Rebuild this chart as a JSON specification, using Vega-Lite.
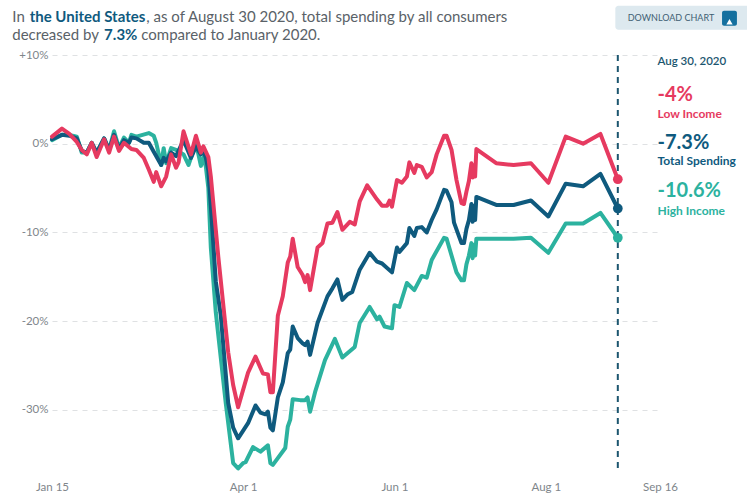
{"$schema":"https://vega.github.io/schema/vega-lite/v6.json","width":608,"height":417,"autosize":"none","padding":{"left":52,"top":55,"right":87,"bottom":25},"background":"white","config":{"view":{"stroke":null},"text":{"font":"Lato"}},
"data":{"values":[{}]},
"datasets":{"spend":[
{"date":"2020-01-15","series":"High","value":0.4},{"date":"2020-01-19","series":"High","value":1.0},{"date":"2020-01-22","series":"High","value":1.0},{"date":"2020-01-25","series":"High","value":0.8},{"date":"2020-01-27","series":"High","value":-1.0},{"date":"2020-01-29","series":"High","value":-1.0},{"date":"2020-01-31","series":"High","value":0.1},{"date":"2020-02-02","series":"High","value":-1.0},{"date":"2020-02-05","series":"High","value":0.6},{"date":"2020-02-07","series":"High","value":-0.7},{"date":"2020-02-09","series":"High","value":1.4},{"date":"2020-02-11","series":"High","value":-0.5},{"date":"2020-02-13","series":"High","value":0.7},{"date":"2020-02-15","series":"High","value":0.1},{"date":"2020-02-16","series":"High","value":1.0},{"date":"2020-02-18","series":"High","value":0.8},{"date":"2020-02-23","series":"High","value":1.2},{"date":"2020-02-25","series":"High","value":0.9},{"date":"2020-02-26","series":"High","value":0.1},{"date":"2020-02-28","series":"High","value":-2.4},{"date":"2020-02-29","series":"High","value":-0.5},{"date":"2020-03-01","series":"High","value":-2.2},{"date":"2020-03-03","series":"High","value":-0.5},{"date":"2020-03-05","series":"High","value":-0.7},{"date":"2020-03-08","series":"High","value":-1.2},{"date":"2020-03-10","series":"High","value":-2.4},{"date":"2020-03-13","series":"High","value":0.1},{"date":"2020-03-15","series":"High","value":-2.5},{"date":"2020-03-16","series":"High","value":-1.5},{"date":"2020-03-17","series":"High","value":-2.6},{"date":"2020-03-18","series":"High","value":-5.0},{"date":"2020-03-19","series":"High","value":-11.7},{"date":"2020-03-21","series":"High","value":-19.0},{"date":"2020-03-25","series":"High","value":-29.2},{"date":"2020-03-28","series":"High","value":-36.0},{"date":"2020-03-30","series":"High","value":-36.6},{"date":"2020-04-01","series":"High","value":-36.0},{"date":"2020-04-02","series":"High","value":-35.9},{"date":"2020-04-05","series":"High","value":-34.2},{"date":"2020-04-08","series":"High","value":-34.7},{"date":"2020-04-11","series":"High","value":-34.0},{"date":"2020-04-12","series":"High","value":-36.0},{"date":"2020-04-13","series":"High","value":-36.2},{"date":"2020-04-18","series":"High","value":-34.3},{"date":"2020-04-19","series":"High","value":-31.9},{"date":"2020-04-20","series":"High","value":-31.1},{"date":"2020-04-21","series":"High","value":-28.8},{"date":"2020-04-24","series":"High","value":-28.9},{"date":"2020-04-26","series":"High","value":-28.9},{"date":"2020-04-27","series":"High","value":-28.6},{"date":"2020-04-28","series":"High","value":-30.2},{"date":"2020-04-30","series":"High","value":-28.0},{"date":"2020-05-04","series":"High","value":-24.4},{"date":"2020-05-08","series":"High","value":-22.0},{"date":"2020-05-11","series":"High","value":-24.1},{"date":"2020-05-16","series":"High","value":-22.9},{"date":"2020-05-18","series":"High","value":-20.2},{"date":"2020-05-22","series":"High","value":-18.4},{"date":"2020-05-25","series":"High","value":-19.8},{"date":"2020-05-26","series":"High","value":-19.5},{"date":"2020-05-28","series":"High","value":-20.6},{"date":"2020-05-31","series":"High","value":-20.8},{"date":"2020-06-01","series":"High","value":-18.2},{"date":"2020-06-03","series":"High","value":-18.4},{"date":"2020-06-06","series":"High","value":-15.7},{"date":"2020-06-09","series":"High","value":-16.5},{"date":"2020-06-12","series":"High","value":-14.9},{"date":"2020-06-14","series":"High","value":-15.1},{"date":"2020-06-16","series":"High","value":-13.1},{"date":"2020-06-21","series":"High","value":-10.6},{"date":"2020-06-22","series":"High","value":-10.7},{"date":"2020-06-26","series":"High","value":-14.5},{"date":"2020-06-28","series":"High","value":-15.4},{"date":"2020-06-29","series":"High","value":-15.4},{"date":"2020-06-30","series":"High","value":-13.6},{"date":"2020-07-01","series":"High","value":-12.6},{"date":"2020-07-02","series":"High","value":-11.2},{"date":"2020-07-02T12:00:00Z","series":"High","value":-12.9},{"date":"2020-07-03","series":"High","value":-11.4},{"date":"2020-07-03T12:00:00Z","series":"High","value":-12.6},{"date":"2020-07-04","series":"High","value":-10.7},{"date":"2020-07-12","series":"High","value":-10.7},{"date":"2020-07-19","series":"High","value":-10.7},{"date":"2020-07-26","series":"High","value":-10.6},{"date":"2020-08-02","series":"High","value":-12.3},{"date":"2020-08-09","series":"High","value":-9.0},{"date":"2020-08-16","series":"High","value":-9.0},{"date":"2020-08-23","series":"High","value":-7.8},{"date":"2020-08-30","series":"High","value":-10.6},
{"date":"2020-01-15","series":"Total","value":0.5},{"date":"2020-01-19","series":"Total","value":1.0},{"date":"2020-01-22","series":"Total","value":0.9},{"date":"2020-01-25","series":"Total","value":0.6},{"date":"2020-01-27","series":"Total","value":-0.8},{"date":"2020-01-29","series":"Total","value":-1.0},{"date":"2020-01-31","series":"Total","value":0.1},{"date":"2020-02-02","series":"Total","value":-1.0},{"date":"2020-02-05","series":"Total","value":0.6},{"date":"2020-02-07","series":"Total","value":-0.7},{"date":"2020-02-09","series":"Total","value":1.0},{"date":"2020-02-11","series":"Total","value":-0.6},{"date":"2020-02-13","series":"Total","value":0.4},{"date":"2020-02-15","series":"Total","value":0.1},{"date":"2020-02-16","series":"Total","value":0.7},{"date":"2020-02-18","series":"Total","value":0.6},{"date":"2020-02-21","series":"Total","value":0.1},{"date":"2020-02-23","series":"Total","value":0.1},{"date":"2020-02-25","series":"Total","value":-0.9},{"date":"2020-02-28","series":"Total","value":-2.4},{"date":"2020-02-29","series":"Total","value":-1.6},{"date":"2020-03-01","series":"Total","value":-2.0},{"date":"2020-03-03","series":"Total","value":-1.0},{"date":"2020-03-05","series":"Total","value":-1.4},{"date":"2020-03-08","series":"Total","value":0.4},{"date":"2020-03-11","series":"Total","value":-1.6},{"date":"2020-03-13","series":"Total","value":-0.3},{"date":"2020-03-15","series":"Total","value":-1.2},{"date":"2020-03-16","series":"Total","value":-0.8},{"date":"2020-03-17","series":"Total","value":-1.6},{"date":"2020-03-18","series":"Total","value":-3.0},{"date":"2020-03-19","series":"Total","value":-7.0},{"date":"2020-03-21","series":"Total","value":-15.5},{"date":"2020-03-23","series":"Total","value":-19.3},{"date":"2020-03-26","series":"Total","value":-29.2},{"date":"2020-03-28","series":"Total","value":-32.0},{"date":"2020-03-30","series":"Total","value":-33.2},{"date":"2020-04-03","series":"Total","value":-31.5},{"date":"2020-04-06","series":"Total","value":-29.5},{"date":"2020-04-08","series":"Total","value":-30.3},{"date":"2020-04-10","series":"Total","value":-30.5},{"date":"2020-04-11","series":"Total","value":-30.2},{"date":"2020-04-12","series":"Total","value":-32.0},{"date":"2020-04-13","series":"Total","value":-32.3},{"date":"2020-04-15","series":"Total","value":-28.6},{"date":"2020-04-17","series":"Total","value":-26.9},{"date":"2020-04-19","series":"Total","value":-23.6},{"date":"2020-04-20","series":"Total","value":-23.2},{"date":"2020-04-21","series":"Total","value":-20.6},{"date":"2020-04-23","series":"Total","value":-21.9},{"date":"2020-04-25","series":"Total","value":-22.5},{"date":"2020-04-26","series":"Total","value":-22.7},{"date":"2020-04-27","series":"Total","value":-22.3},{"date":"2020-04-28","series":"Total","value":-23.8},{"date":"2020-05-01","series":"Total","value":-20.2},{"date":"2020-05-05","series":"Total","value":-17.2},{"date":"2020-05-07","series":"Total","value":-16.3},{"date":"2020-05-09","series":"Total","value":-15.3},{"date":"2020-05-11","series":"Total","value":-17.6},{"date":"2020-05-13","series":"Total","value":-17.0},{"date":"2020-05-15","series":"Total","value":-16.7},{"date":"2020-05-18","series":"Total","value":-14.2},{"date":"2020-05-22","series":"Total","value":-12.3},{"date":"2020-05-25","series":"Total","value":-13.3},{"date":"2020-05-27","series":"Total","value":-13.5},{"date":"2020-05-31","series":"Total","value":-14.5},{"date":"2020-06-02","series":"Total","value":-11.7},{"date":"2020-06-03","series":"Total","value":-12.2},{"date":"2020-06-06","series":"Total","value":-11.2},{"date":"2020-06-07","series":"Total","value":-9.5},{"date":"2020-06-09","series":"Total","value":-10.4},{"date":"2020-06-10","series":"Total","value":-9.5},{"date":"2020-06-12","series":"Total","value":-9.4},{"date":"2020-06-14","series":"Total","value":-10.0},{"date":"2020-06-16","series":"Total","value":-8.6},{"date":"2020-06-18","series":"Total","value":-7.4},{"date":"2020-06-21","series":"Total","value":-5.2},{"date":"2020-06-22","series":"Total","value":-5.3},{"date":"2020-06-24","series":"Total","value":-6.6},{"date":"2020-06-25","series":"Total","value":-8.9},{"date":"2020-06-28","series":"Total","value":-11.2},{"date":"2020-06-29","series":"Total","value":-11.2},{"date":"2020-06-30","series":"Total","value":-9.6},{"date":"2020-07-01","series":"Total","value":-8.6},{"date":"2020-07-02","series":"Total","value":-6.8},{"date":"2020-07-02T12:00:00Z","series":"Total","value":-8.8},{"date":"2020-07-03","series":"Total","value":-7.0},{"date":"2020-07-03T12:00:00Z","series":"Total","value":-8.6},{"date":"2020-07-04","series":"Total","value":-6.0},{"date":"2020-07-12","series":"Total","value":-6.9},{"date":"2020-07-19","series":"Total","value":-6.9},{"date":"2020-07-26","series":"Total","value":-6.4},{"date":"2020-08-02","series":"Total","value":-8.2},{"date":"2020-08-09","series":"Total","value":-4.5},{"date":"2020-08-16","series":"Total","value":-4.8},{"date":"2020-08-23","series":"Total","value":-3.4},{"date":"2020-08-30","series":"Total","value":-7.3},
{"date":"2020-01-15","series":"Low","value":0.8},{"date":"2020-01-19","series":"Low","value":1.7},{"date":"2020-01-22","series":"Low","value":1.1},{"date":"2020-01-25","series":"Low","value":0.2},{"date":"2020-01-27","series":"Low","value":-0.7},{"date":"2020-01-29","series":"Low","value":-1.2},{"date":"2020-01-31","series":"Low","value":0.1},{"date":"2020-02-02","series":"Low","value":-1.5},{"date":"2020-02-05","series":"Low","value":0.5},{"date":"2020-02-07","series":"Low","value":-1.0},{"date":"2020-02-09","series":"Low","value":0.8},{"date":"2020-02-11","series":"Low","value":-0.8},{"date":"2020-02-13","series":"Low","value":0.1},{"date":"2020-02-16","series":"Low","value":-0.6},{"date":"2020-02-18","series":"Low","value":-0.7},{"date":"2020-02-21","series":"Low","value":-1.6},{"date":"2020-02-23","series":"Low","value":-2.9},{"date":"2020-02-25","series":"Low","value":-4.3},{"date":"2020-02-26","series":"Low","value":-3.2},{"date":"2020-02-28","series":"Low","value":-4.8},{"date":"2020-03-01","series":"Low","value":-3.7},{"date":"2020-03-03","series":"Low","value":-1.2},{"date":"2020-03-05","series":"Low","value":-2.7},{"date":"2020-03-06","series":"Low","value":-2.1},{"date":"2020-03-08","series":"Low","value":1.4},{"date":"2020-03-11","series":"Low","value":-1.2},{"date":"2020-03-13","series":"Low","value":0.9},{"date":"2020-03-15","series":"Low","value":-1.0},{"date":"2020-03-16","series":"Low","value":-0.3},{"date":"2020-03-18","series":"Low","value":-1.5},{"date":"2020-03-19","series":"Low","value":-3.7},{"date":"2020-03-21","series":"Low","value":-9.7},{"date":"2020-03-22","series":"Low","value":-12.7},{"date":"2020-03-26","series":"Low","value":-23.5},{"date":"2020-03-28","series":"Low","value":-27.2},{"date":"2020-03-30","series":"Low","value":-29.7},{"date":"2020-04-03","series":"Low","value":-25.8},{"date":"2020-04-06","series":"Low","value":-24.0},{"date":"2020-04-09","series":"Low","value":-25.9},{"date":"2020-04-11","series":"Low","value":-26.0},{"date":"2020-04-12","series":"Low","value":-28.0},{"date":"2020-04-13","series":"Low","value":-28.0},{"date":"2020-04-15","series":"Low","value":-19.4},{"date":"2020-04-17","series":"Low","value":-17.2},{"date":"2020-04-19","series":"Low","value":-13.4},{"date":"2020-04-20","series":"Low","value":-12.7},{"date":"2020-04-21","series":"Low","value":-10.7},{"date":"2020-04-23","series":"Low","value":-13.9},{"date":"2020-04-25","series":"Low","value":-14.8},{"date":"2020-04-26","series":"Low","value":-15.6},{"date":"2020-04-27","series":"Low","value":-14.8},{"date":"2020-04-28","series":"Low","value":-16.5},{"date":"2020-05-01","series":"Low","value":-11.7},{"date":"2020-05-03","series":"Low","value":-11.2},{"date":"2020-05-05","series":"Low","value":-9.0},{"date":"2020-05-07","series":"Low","value":-8.9},{"date":"2020-05-09","series":"Low","value":-7.7},{"date":"2020-05-11","series":"Low","value":-9.7},{"date":"2020-05-14","series":"Low","value":-8.8},{"date":"2020-05-16","series":"Low","value":-9.1},{"date":"2020-05-18","series":"Low","value":-6.5},{"date":"2020-05-21","series":"Low","value":-4.7},{"date":"2020-05-25","series":"Low","value":-6.3},{"date":"2020-05-27","series":"Low","value":-7.0},{"date":"2020-05-29","series":"Low","value":-7.0},{"date":"2020-05-30","series":"Low","value":-6.4},{"date":"2020-05-31","series":"Low","value":-7.1},{"date":"2020-06-02","series":"Low","value":-4.1},{"date":"2020-06-04","series":"Low","value":-4.4},{"date":"2020-06-06","series":"Low","value":-3.7},{"date":"2020-06-07","series":"Low","value":-2.1},{"date":"2020-06-09","series":"Low","value":-3.3},{"date":"2020-06-10","series":"Low","value":-2.4},{"date":"2020-06-12","series":"Low","value":-2.6},{"date":"2020-06-14","series":"Low","value":-3.8},{"date":"2020-06-16","series":"Low","value":-3.2},{"date":"2020-06-18","series":"Low","value":-1.2},{"date":"2020-06-21","series":"Low","value":0.9},{"date":"2020-06-22","series":"Low","value":0.9},{"date":"2020-06-24","series":"Low","value":-0.7},{"date":"2020-06-26","series":"Low","value":-4.1},{"date":"2020-06-28","series":"Low","value":-6.7},{"date":"2020-06-29","series":"Low","value":-6.8},{"date":"2020-06-30","series":"Low","value":-5.4},{"date":"2020-07-01","series":"Low","value":-4.2},{"date":"2020-07-02","series":"Low","value":-2.2},{"date":"2020-07-02T12:00:00Z","series":"Low","value":-3.8},{"date":"2020-07-03","series":"Low","value":-2.4},{"date":"2020-07-03T12:00:00Z","series":"Low","value":-3.7},{"date":"2020-07-04","series":"Low","value":-0.6},{"date":"2020-07-12","series":"Low","value":-2.2},{"date":"2020-07-19","series":"Low","value":-2.4},{"date":"2020-07-26","series":"Low","value":-2.2},{"date":"2020-08-02","series":"Low","value":-4.4},{"date":"2020-08-09","series":"Low","value":0.8},{"date":"2020-08-16","series":"Low","value":0.0},{"date":"2020-08-23","series":"Low","value":1.1},{"date":"2020-08-30","series":"Low","value":-4.0}]},
"layer":[
{"data":{"name":"spend"},"mark":{"type":"line","strokeWidth":4,"interpolate":"linear","strokeCap":"round","strokeJoin":"round"},"encoding":{
"x":{"field":"date","type":"temporal","title":null,"scale":{"type":"utc","domain":[{"year":2020,"month":1,"date":15,"utc":true},{"year":2020,"month":9,"date":16,"utc":true}]},"axis":{"values":[{"year":2020,"month":1,"date":15,"utc":true},{"year":2020,"month":4,"date":1,"utc":true},{"year":2020,"month":6,"date":1,"utc":true},{"year":2020,"month":8,"date":1,"utc":true},{"year":2020,"month":9,"date":16,"utc":true}],"format":"%b %-d","grid":false,"domain":false,"ticks":false,"labelFont":"Lato","labelFontSize":11.5,"labelColor":"#80868b","labelPadding":9,"labelFlush":false,"labelOverlap":false,"labelBound":false,"title":null}},
"y":{"field":"value","type":"quantitative","title":null,"scale":{"domain":[-37,10],"nice":false,"zero":false},"axis":{"values":[10,0,-10,-20,-30],"labelExpr":"datum.value>0?'+'+datum.value+'%':datum.value+'%'","grid":true,"gridColor":"#dfe1e3","gridDash":[5,5],"gridWidth":1,"domain":false,"ticks":false,"labelFont":"Lato","labelFontSize":11.5,"labelColor":"#80868b","labelPadding":4,"labelOverlap":false,"labelBound":false,"title":null}},
"color":{"field":"series","type":"nominal","legend":null,"scale":{"domain":["High","Total","Low"],"range":["#2cb29f","#0f5a7e","#e63a60"]}},
"order":{"field":"date","type":"temporal"}}},
{"mark":{"type":"rule","stroke":"#1c566f","strokeWidth":2,"strokeDash":[6,5]},"encoding":{"x":{"datum":{"year":2020,"month":8,"date":30,"utc":true},"type":"temporal"},"y":{"datum":10,"type":"quantitative"},"y2":{"datum":-37}}},
{"data":{"name":"spend"},"transform":[{"filter":"time(datum.date)==time('2020-08-30')"}],"mark":{"type":"point","filled":true,"opacity":1,"size":95},"encoding":{"x":{"field":"date","type":"temporal"},"y":{"field":"value","type":"quantitative"},"color":{"field":"series","type":"nominal","legend":null}}},
{"mark":{"type":"text","text":"In ","align":"left","baseline":"middle","fontSize":15,"color":"#5a6268"},"encoding":{"x":{"datum":{"year":2019,"month":12,"date":30,"utc":true},"type":"temporal"},"y":{"datum":14.3,"type":"quantitative"}}},
{"mark":{"type":"text","text":"the United States","align":"left","baseline":"middle","fontSize":15,"fontWeight":"bold","color":"#0f5a7e"},"encoding":{"x":{"datum":{"year":2020,"month":1,"date":6,"utc":true},"type":"temporal"},"y":{"datum":14.3,"type":"quantitative"}}},
{"mark":{"type":"text","text":", as of August 30 2020, total spending by all consumers","align":"left","baseline":"middle","fontSize":15,"color":"#5a6268"},"encoding":{"x":{"datum":{"year":2020,"month":2,"date":22,"utc":true},"type":"temporal"},"y":{"datum":14.3,"type":"quantitative"}}},
{"mark":{"type":"text","text":"decreased by","align":"left","baseline":"middle","fontSize":15,"color":"#5a6268"},"encoding":{"x":{"datum":{"year":2019,"month":12,"date":30,"utc":true},"type":"temporal"},"y":{"datum":12.2,"type":"quantitative"}}},
{"mark":{"type":"text","text":"7.3%","align":"left","baseline":"middle","fontSize":15,"fontWeight":"bold","color":"#0f5a7e"},"encoding":{"x":{"datum":{"year":2020,"month":2,"date":5,"utc":true},"type":"temporal"},"y":{"datum":12.2,"type":"quantitative"}}},
{"mark":{"type":"text","text":"compared to January 2020.","align":"left","baseline":"middle","fontSize":15,"color":"#5a6268"},"encoding":{"x":{"datum":{"year":2020,"month":2,"date":20,"utc":true},"type":"temporal"},"y":{"datum":12.2,"type":"quantitative"}}},
{"mark":{"type":"rect","color":"#dde9ef","cornerRadius":3},"encoding":{"x":{"datum":{"year":2020,"month":8,"date":29,"utc":true},"type":"temporal"},"x2":{"datum":{"year":2020,"month":10,"date":22,"utc":true}},"y":{"datum":15.56,"type":"quantitative"},"y2":{"datum":12.85}}},
{"mark":{"type":"text","text":"DOWNLOAD CHART","align":"left","baseline":"middle","fontSize":9,"color":"#3f5f73"},"encoding":{"x":{"datum":{"year":2020,"month":9,"date":3,"utc":true},"type":"temporal"},"y":{"datum":14.2,"type":"quantitative"}}},
{"mark":{"type":"rect","color":"#14709f","cornerRadius":2},"encoding":{"x":{"datum":{"year":2020,"month":10,"date":11,"utc":true},"type":"temporal"},"x2":{"datum":{"year":2020,"month":10,"date":17,"utc":true}},"y":{"datum":15.0,"type":"quantitative"},"y2":{"datum":13.3}}},
{"mark":{"type":"point","shape":"triangle-up","filled":true,"opacity":1,"color":"white","size":40},"encoding":{"x":{"datum":{"year":2020,"month":10,"date":14,"utc":true},"type":"temporal"},"y":{"datum":13.75,"type":"quantitative"}}},
{"mark":{"type":"text","text":"Aug 30, 2020","align":"left","baseline":"middle","fontSize":11.5,"fontWeight":600,"color":"#1c566f"},"encoding":{"x":{"datum":{"year":2020,"month":9,"date":15,"utc":true},"type":"temporal"},"y":{"datum":9.2,"type":"quantitative"}}},
{"mark":{"type":"text","text":"-4%","align":"left","baseline":"middle","fontSize":20,"fontWeight":"bold","color":"#e63a60"},"encoding":{"x":{"datum":{"year":2020,"month":9,"date":15,"utc":true},"type":"temporal"},"y":{"datum":5.5,"type":"quantitative"}}},
{"mark":{"type":"text","text":"Low Income","align":"left","baseline":"middle","fontSize":12,"fontWeight":"bold","color":"#e63a60"},"encoding":{"x":{"datum":{"year":2020,"month":9,"date":15,"utc":true},"type":"temporal"},"y":{"datum":3.4,"type":"quantitative"}}},
{"mark":{"type":"text","text":"-7.3%","align":"left","baseline":"middle","fontSize":20,"fontWeight":"bold","color":"#0f5a7e"},"encoding":{"x":{"datum":{"year":2020,"month":9,"date":15,"utc":true},"type":"temporal"},"y":{"datum":0.1,"type":"quantitative"}}},
{"mark":{"type":"text","text":"Total Spending","align":"left","baseline":"middle","fontSize":12,"fontWeight":"bold","color":"#0f5a7e"},"encoding":{"x":{"datum":{"year":2020,"month":9,"date":15,"utc":true},"type":"temporal"},"y":{"datum":-2.0,"type":"quantitative"}}},
{"mark":{"type":"text","text":"-10.6%","align":"left","baseline":"middle","fontSize":20,"fontWeight":"bold","color":"#2cb29f"},"encoding":{"x":{"datum":{"year":2020,"month":9,"date":15,"utc":true},"type":"temporal"},"y":{"datum":-5.3,"type":"quantitative"}}},
{"mark":{"type":"text","text":"High Income","align":"left","baseline":"middle","fontSize":12,"fontWeight":"bold","color":"#2cb29f"},"encoding":{"x":{"datum":{"year":2020,"month":9,"date":15,"utc":true},"type":"temporal"},"y":{"datum":-7.6,"type":"quantitative"}}}
]}
